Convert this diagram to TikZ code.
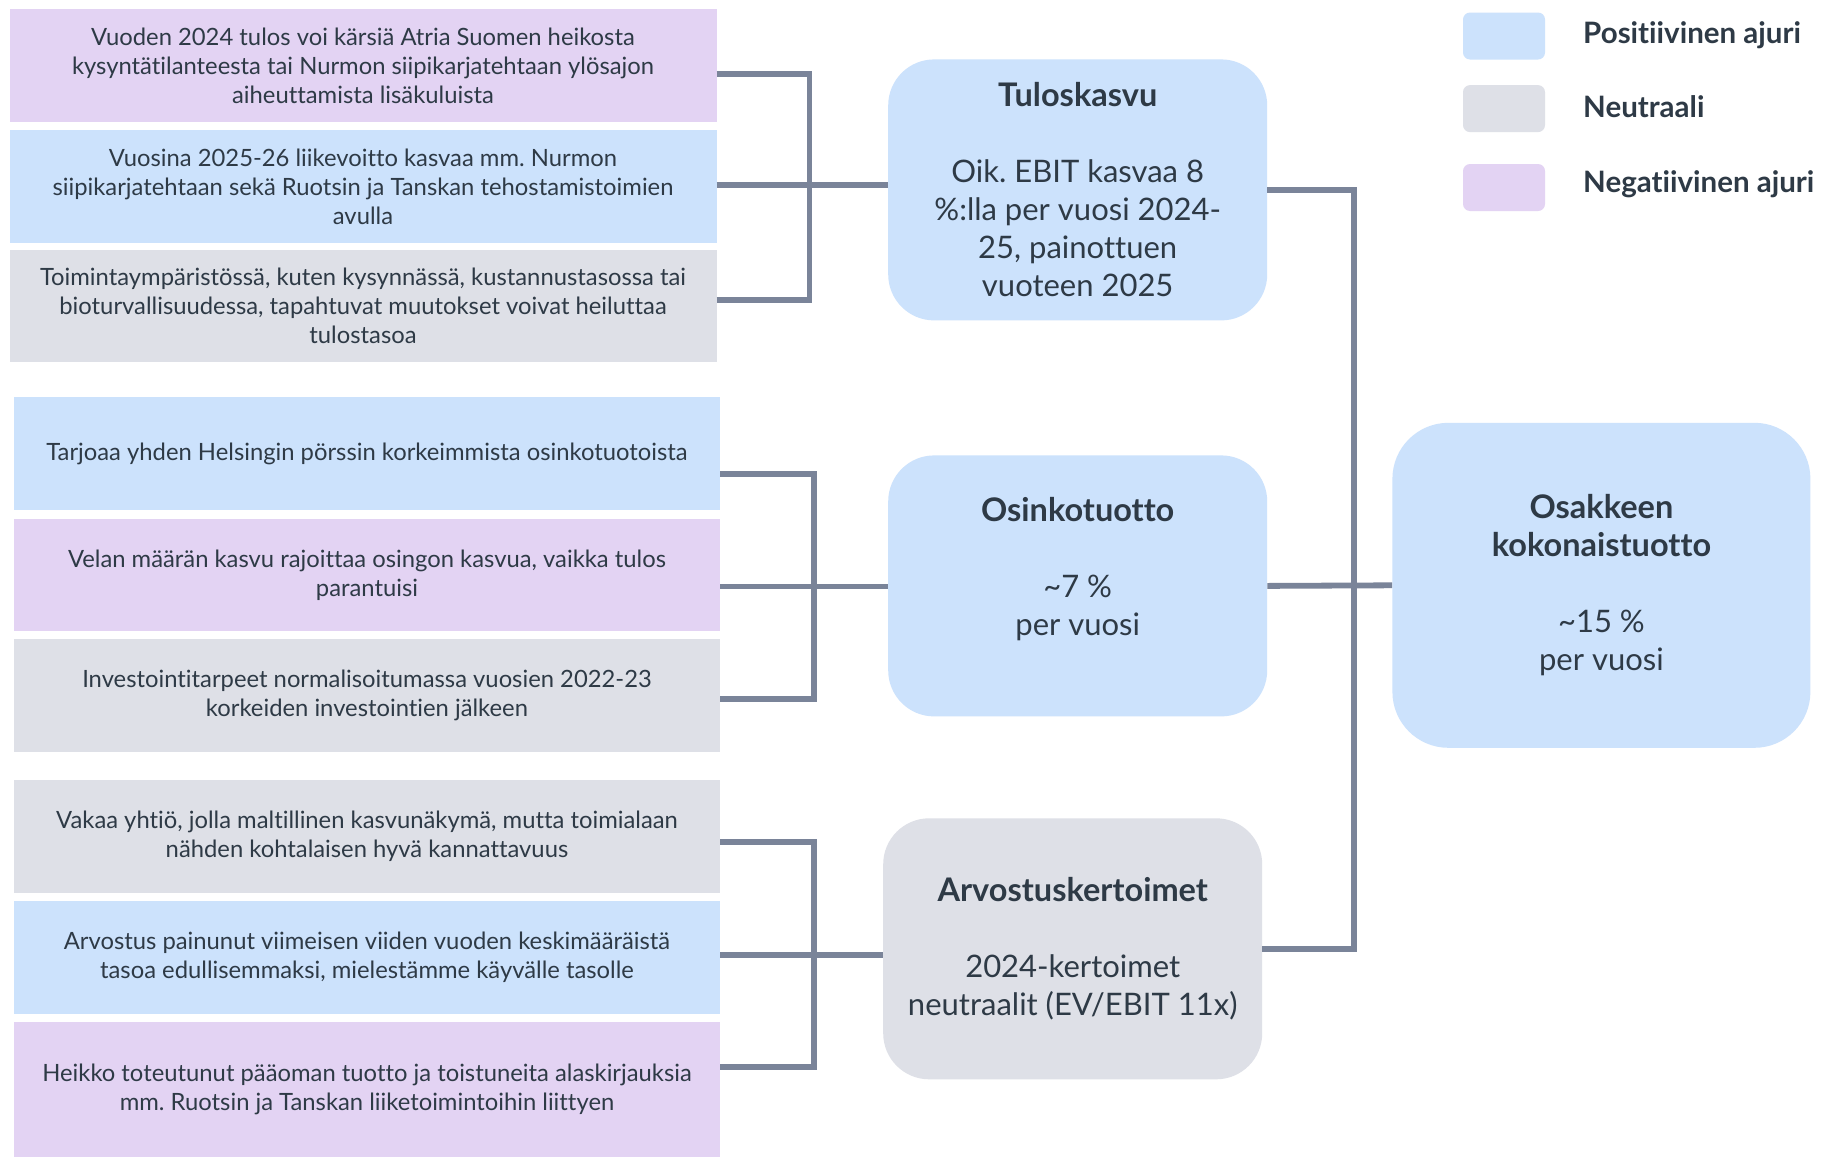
\documentclass[tikz,border=0pt]{standalone}
\usepackage{fontspec}
\setmainfont{Lato}[Ligatures=NoCommon]
\definecolor{posc}{HTML}{CCE2FC}
\definecolor{neuc}{HTML}{DEE0E7}
\definecolor{negc}{HTML}{E3D3F3}
\definecolor{linec}{HTML}{7A8499}
\definecolor{txtc}{HTML}{2E3A46}
\begin{document}
\frenchspacing
\begin{tikzpicture}[x=1pt,y=-1pt,
  lbox/.style={rectangle, minimum width=707pt, minimum height=112.6pt, inner sep=0pt, align=center, text=txtc, font=\fontsize{23.8}{29}\selectfont},
  mbox/.style={rectangle, rounded corners=46pt, minimum width=379pt, minimum height=261pt, inner sep=0pt, align=center, text=txtc, font=\fontsize{31}{38}\selectfont},
  legsq/.style={rectangle, rounded corners=7pt, minimum width=82pt, minimum height=47pt, inner sep=0pt},
  leglab/.style={anchor=west, inner sep=0pt, text=txtc, font=\fontsize{29.5}{32}\selectfont\bfseries},
  conn/.style={draw=linec, line width=5.8pt, line join=miter}
]
\useasboundingbox[fill=white] (0,0) rectangle (1821,1157);

% left boxes
\node[lbox, fill=negc] (b1) at (363,65.6) {Vuoden 2024 tulos voi kärsiä Atria Suomen heikosta\\kysyntätilanteesta tai Nurmon siipikarjatehtaan ylösajon\\aiheuttamista lisäkuluista};
\node[lbox, fill=posc] (b2) at (363,186.4) {Vuosina 2025-26 liikevoitto kasvaa mm. Nurmon\\siipikarjatehtaan sekä Ruotsin ja Tanskan tehostamistoimien\\avulla};
\node[lbox, fill=neuc] (b3) at (363,306) {Toimintaympäristössä, kuten kysynnässä, kustannustasossa tai\\bioturvallisuudessa, tapahtuvat muutokset voivat heiluttaa\\tulostasoa};

\node[lbox, fill=posc, minimum width=706pt] (b4) at (367,453.5) {Tarjoaa yhden Helsingin pörssin korkeimmista osinkotuotoista};
\node[lbox, fill=negc, minimum width=706pt] (b5) at (367,575) {Velan määrän kasvu rajoittaa osingon kasvua, vaikka tulos\\parantuisi};
\node[lbox, fill=neuc, minimum width=706pt] (b6) at (367,695.5) {Investointitarpeet normalisoitumassa vuosien 2022-23\\korkeiden investointien jälkeen};

\node[lbox, fill=neuc, minimum width=706pt] (b7) at (367,836.5) {Vakaa yhtiö, jolla maltillinen kasvunäkymä, mutta toimialaan\\nähden kohtalaisen hyvä kannattavuus};
\node[lbox, fill=posc, minimum width=706pt] (b8) at (367,957.5) {Arvostus painunut viimeisen viiden vuoden keskimääräistä\\tasoa edullisemmaksi, mielestämme käyvälle tasolle};
\node[lbox, fill=negc, minimum width=706pt, minimum height=135pt] (b9) at (367,1089.5) {Heikko toteutunut pääoman tuotto ja toistuneita alaskirjauksia\\mm. Ruotsin ja Tanskan liiketoimintoihin liittyen};

% middle boxes
\node[mbox, fill=posc] (tul) at (1077.7,189.9) {{\fontsize{32.5}{38}\selectfont\bfseries Tuloskasvu}\\[38pt]Oik. EBIT kasvaa 8\\\%:lla per vuosi 2024-\\25, painottuen\\vuoteen 2025};
\node[mbox, fill=posc] (osi) at (1077.7,585.9) {{\fontsize{32.5}{38}\selectfont\bfseries Osinkotuotto}\\[38pt]\textasciitilde7 \%\\per vuosi\\\mbox{}};
\node[mbox, fill=neuc] (arv) at (1072.7,948.8) {{\fontsize{32.5}{38}\selectfont\bfseries Arvostuskertoimet}\\[38pt]2024-kertoimet\\neutraalit (EV/EBIT 11x)};

% right box
\node[mbox, fill=posc, rounded corners=56pt, minimum width=418pt, minimum height=325pt] (tot) at (1601.4,585.3) {{\fontsize{32.5}{38}\selectfont\bfseries Osakkeen}\\{\fontsize{32.5}{38}\selectfont\bfseries kokonaistuotto}\\[38pt]\textasciitilde15 \%\\per vuosi};

% legend
\node[legsq, fill=posc] (lp) at (1504,36) {};
\node[legsq, fill=neuc] (ln) at (1504,108.6) {};
\node[legsq, fill=negc] (lg) at (1504,187.5) {};
\node[leglab] (lpt) at (1583,35) {Positiivinen ajuri};
\node[leglab] (lnt) at (1583,106.5) {Neutraali};
\node[leglab] (lgt) at (1583,184.5) {Negatiivinen ajuri};

% connector coordinates
\coordinate (g1) at (809.4,185);
\coordinate (y1a) at (0,74.3);
\coordinate (y1c) at (0,299.6);
\coordinate (g2) at (814,586.5);
\coordinate (y2a) at (0,473.8);
\coordinate (y2c) at (0,699.1);
\coordinate (g3) at (814,954.6);
\coordinate (y3a) at (0,842);
\coordinate (y3c) at (0,1067.2);
\coordinate (jr) at (1354,586.5);

% group 1
\draw[conn] (b1.east |- y1a) -| (g1);
\draw[conn] (b3.east |- y1c) -| (g1);
\draw[conn] (b2.east |- g1) -- (tul.west |- g1);
% group 2
\draw[conn] (b4.east |- y2a) -| (g2);
\draw[conn] (b6.east |- y2c) -| (g2);
\draw[conn] (b5.east |- g2) -- (osi.west |- g2);
% group 3
\draw[conn] (b7.east |- y3a) -| (g3);
\draw[conn] (b9.east |- y3c) -| (g3);
\draw[conn] (b8.east |- g3) -- (arv.west |- g3);
% right
\draw[conn] (tul.east) -| (jr) |- (arv.east);
\draw[conn] (osi.east) -- (tot.west);
\end{tikzpicture}
\end{document}
